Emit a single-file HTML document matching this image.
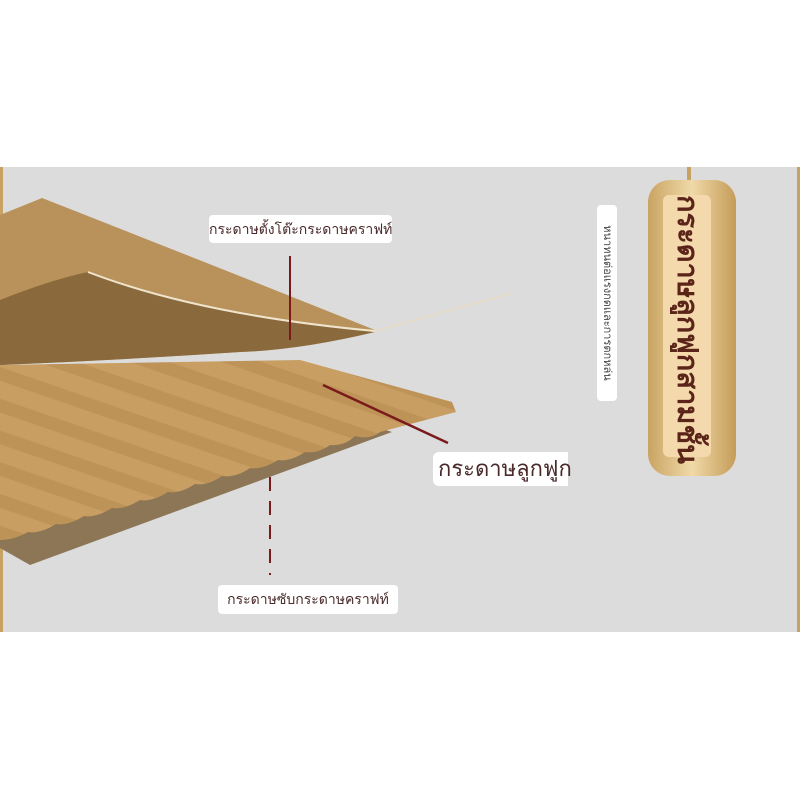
<!DOCTYPE html>
<html><head><meta charset="utf-8"><style>
html,body{margin:0;padding:0;width:800px;height:800px;background:#fff;overflow:hidden;font-family:"Liberation Sans",sans-serif}
.lbl{position:absolute;background:#fff;border-radius:4px;color:#4a2a2a;white-space:nowrap;text-align:center}
</style></head><body>
<svg width="800" height="800" style="position:absolute;left:0;top:0">
<defs>
<pattern id="stripes" width="30" height="30" patternUnits="userSpaceOnUse" patternTransform="rotate(-71)">
<rect width="30" height="30" fill="#c89e62"/><rect width="13" height="30" fill="#be9358"/></pattern>
<linearGradient id="pill" x1="0" y1="0" x2="1" y2="0">
<stop offset="0" stop-color="#c9a462"/><stop offset="0.5" stop-color="#f0d9a8"/><stop offset="1" stop-color="#c49c58"/></linearGradient>
</defs>
<rect x="0" y="167" width="800" height="465" fill="#dcdcdc"/>
<rect x="0" y="167" width="3" height="465" fill="#c8a264"/>
<rect x="797" y="167" width="3" height="465" fill="#c8a264"/>
<polygon points="0,500 380,428 392,432 30,565 0,548" fill="#8c7656"/>
<path d="M0,365 L300,360 L452,402 L456,412 L380,432 Q370,440 355,436 Q345,446 330,445 Q318,454 305,452 Q290,462 278,460 Q262,470 250,468 Q236,478 222,476 Q208,486 195,484 Q180,494 168,492 Q152,502 140,500 Q124,510 112,508 Q96,518 84,516 Q68,526 56,524 Q40,534 28,532 Q14,540 0,540 Z" fill="url(#stripes)"/>
<path d="M0,215 L42,198 Q200,260 375,330 Q300,350 240,352 Q120,360 0,365 Z" fill="#b8925a"/>
<path d="M0,300 Q50,280 88,272 Q200,315 375,332 Q300,350 240,352 Q120,360 0,365 Z" fill="#8a6a3c"/>
<path d="M88,272 Q200,315 375,331" stroke="#efe4cc" stroke-width="2" fill="none"/>
<path d="M375,331 L512,293" stroke="#e8dcc4" stroke-width="1.5" fill="none"/>
<line x1="290" y1="256" x2="290" y2="340" stroke="#7a1a1a" stroke-width="2"/>
<line x1="323" y1="385" x2="448" y2="443" stroke="#7a1a1a" stroke-width="2.5"/>
<line x1="270" y1="477" x2="270" y2="575" stroke="#7a1a1a" stroke-width="2" stroke-dasharray="14,10"/>
<rect x="687" y="167" width="4" height="20" fill="#c8a264"/>
<rect x="648" y="180" width="88" height="296" rx="22" fill="url(#pill)"/>
<rect x="663" y="195" width="48" height="262" rx="6" fill="#f4d9ad"/>
</svg>
<div class="lbl" style="left:209px;top:215px;width:183px;height:28px;line-height:28px;font-size:14px">กระดาษตั้งโต๊ะกระดาษคราฟท์</div>
<div class="lbl" style="left:433px;top:452px;width:130px;height:34px;line-height:34px;font-size:22px;text-align:left;padding-left:5px;border-radius:6px 0 0 6px">กระดาษลูกฟูก</div>
<div class="lbl" style="left:218px;top:585px;width:180px;height:29px;line-height:29px;font-size:14px">กระดาษซับกระดาษคราฟท์</div>
<div class="lbl" style="left:597px;top:205px;width:20px;height:196px;">
<div style="position:absolute;left:10px;top:98px;transform:translate(-50%,-50%) rotate(90deg);font-size:11px;width:196px;line-height:20px;color:#444">หนาทนต่อแรงกดและการตกหล่น</div></div>
<div style="position:absolute;left:687px;top:326px;transform:translate(-50%,-50%) rotate(90deg);width:262px;font-size:29px;font-weight:bold;line-height:44px;color:#5a2418;white-space:nowrap;text-align:center">กระดาษลูกฟูกสามชั้น</div>
</body></html>
